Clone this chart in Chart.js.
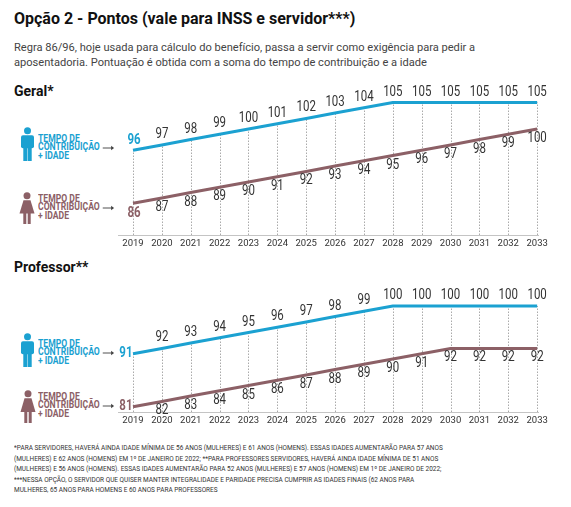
<!DOCTYPE html>
<html><head><meta charset="utf-8">
<script src="https://cdn.jsdelivr.net/npm/chart.js@4.4.1/dist/chart.umd.min.js"></script>
<style>
html,body{margin:0;padding:0;background:#fff;}
body{width:571px;height:507px;position:relative;overflow:hidden;font-family:Roboto,sans-serif;color:#222;}
.abs{position:absolute;white-space:nowrap;}
#title{left:14px;top:9px;font-weight:bold;font-size:16px;color:#111;}
#sub{left:14px;top:40px;font-size:11.1px;line-height:15px;color:#444;}
.sec{font-weight:bold;font-size:14px;color:#111;}
.lg{font-weight:bold;font-size:10px;line-height:8.8px;transform:scaleX(0.86);transform-origin:0 0;}
.lg svg{vertical-align:middle;margin-left:1px;}
#foot{left:14px;top:443px;font-size:7.5px;line-height:10.5px;color:#333;transform:scaleX(0.862);transform-origin:0 0;}
canvas{position:absolute;left:0;}
</style></head>
<body>
<div id="title" class="abs">Opção 2 - Pontos (vale para INSS e servidor***)</div>
<div id="sub" class="abs">Regra 86/96, hoje usada para cálculo do benefício, passa a servir como exigência para pedir a<br>aposentadoria. Pontuação é obtida com a soma do tempo de contribuição e a idade</div>
<div class="abs sec" style="left:14px;top:83px">Geral*</div>
<div class="abs sec" style="left:14px;top:259px">Professor**</div>

<svg class="abs" style="left:21px;top:127px" width="13" height="34" viewBox="0 0 13 34" fill="#1ba1d1"><circle cx="6.5" cy="3.8" r="3.5"/><rect x="0" y="8.3" width="13" height="13" rx="2"/><rect x="2.3" y="19" width="4" height="15"/><rect x="6.7" y="19" width="4" height="15"/></svg>
<div class="abs lg" style="left:38px;top:134.5px;color:#1ba1d1">TEMPO DE<br>CONTRIBUIÇÃO <svg width="14" height="6" viewBox="0 0 14 6"><path d="M0 3H12" stroke="#444" stroke-width="1"/><path d="M10 0.8L13.5 3L10 5.2Z" fill="#444"/></svg><br>+ IDADE</div>
<svg class="abs" style="left:19px;top:192px" width="16" height="32" viewBox="0 0 16 32" fill="#8c6066"><circle cx="8" cy="3.8" r="3.5"/><path d="M4.5 8.3 H11.5 L15.5 21.5 H0.5 Z"/><rect x="4.3" y="20.5" width="3" height="11.5"/><rect x="8.7" y="20.5" width="3" height="11.5"/></svg>
<div class="abs lg" style="left:38px;top:194.5px;color:#8c6066">TEMPO DE<br>CONTRIBUIÇÃO <svg width="14" height="6" viewBox="0 0 14 6"><path d="M0 3H12" stroke="#444" stroke-width="1"/><path d="M10 0.8L13.5 3L10 5.2Z" fill="#444"/></svg><br>+ IDADE</div>

<svg class="abs" style="left:21px;top:333px" width="13" height="34" viewBox="0 0 13 34" fill="#1ba1d1"><circle cx="6.5" cy="3.8" r="3.5"/><rect x="0" y="8.3" width="13" height="13" rx="2"/><rect x="2.3" y="19" width="4" height="15"/><rect x="6.7" y="19" width="4" height="15"/></svg>
<div class="abs lg" style="left:38px;top:339.5px;color:#1ba1d1">TEMPO DE<br>CONTRIBUIÇÃO <svg width="14" height="6" viewBox="0 0 14 6"><path d="M0 3H12" stroke="#444" stroke-width="1"/><path d="M10 0.8L13.5 3L10 5.2Z" fill="#444"/></svg><br>+ IDADE</div>
<svg class="abs" style="left:20px;top:390px" width="16" height="33" viewBox="0 0 16 33" fill="#8c6066"><circle cx="8" cy="3.8" r="3.5"/><path d="M4.5 8.3 H11.5 L15.5 22 H0.5 Z"/><rect x="4.3" y="21" width="3" height="12"/><rect x="8.7" y="21" width="3" height="12"/></svg>
<div class="abs lg" style="left:38px;top:392.5px;color:#8c6066">TEMPO DE<br>CONTRIBUIÇÃO <svg width="14" height="6" viewBox="0 0 14 6"><path d="M0 3H12" stroke="#444" stroke-width="1"/><path d="M10 0.8L13.5 3L10 5.2Z" fill="#444"/></svg><br>+ IDADE</div>

<canvas id="c1" width="571" height="180" style="top:80px"></canvas>
<canvas id="c2" width="571" height="160" style="top:280px"></canvas>

<div id="foot" class="abs">*PARA SERVIDORES, HAVERÁ AINDA IDADE MÍNIMA DE 56 ANOS (MULHERES) E 61 ANOS (HOMENS). ESSAS IDADES AUMENTARÃO PARA 57 ANOS<br>(MULHERES) E 62 ANOS (HOMENS) EM 1º DE JANEIRO DE 2022; **PARA PROFESSORES SERVIDORES, HAVERÁ AINDA IDADE MÍNIMA DE 51 ANOS<br>(MULHERES) E 56 ANOS (HOMENS). ESSAS IDADES AUMENTARÃO PARA 52 ANOS (MULHERES) E 57 ANOS (HOMENS) EM 1º DE JANEIRO DE 2022;<br>***NESSA OPÇÃO, O SERVIDOR QUE QUISER MANTER INTEGRALIDADE E PARIDADE PRECISA CUMPRIR AS IDADES FINAIS (62 ANOS PARA<br>MULHERES, 65 ANOS PARA HOMENS E 60 ANOS PARA PROFESSORES</div>

<script>
const years = [2019,2020,2021,2022,2023,2024,2025,2026,2027,2028,2029,2030,2031,2032,2033];
const geralHomens = [96,97,98,99,100,101,102,103,104,105,105,105,105,105,105];
const geralMulheres = [86,87,88,89,90,91,92,93,94,95,96,97,98,99,100];
const profHomens = [91,92,93,94,95,96,97,98,99,100,100,100,100,100,100];
const profMulheres = [81,82,83,84,85,86,87,88,89,90,91,92,92,92,92];

const BLUE = '#1ba1d1';
const BROWN = '#8c6066';
const FONT = 'Roboto, sans-serif';

const gridPlugin = {
  id: 'colGrid',
  beforeDatasetsDraw(chart) {
    const ctx = chart.ctx, area = chart.chartArea;
    const metas = chart.data.datasets.map((d, i) => chart.getDatasetMeta(i));
    ctx.save();
    ctx.strokeStyle = '#aaaaaa';
    ctx.lineWidth = 1;
    ctx.setLineDash([1.5, 1.5]);
    metas[0].data.forEach((pt, i) => {
      const top = Math.min(...metas.map(m => m.data[i].y));
      const x = Math.round(pt.x) + 0.5;
      ctx.beginPath();
      ctx.moveTo(x, area.bottom);
      ctx.lineTo(x, top);
      ctx.stroke();
    });
    ctx.restore();
  }
};

function drawText(ctx, txt, x, y, align) {
  ctx.save();
  ctx.translate(x, y);
  ctx.scale(0.82, 1);
  ctx.textAlign = align;
  ctx.textBaseline = 'middle';
  ctx.fillText(txt, 0, 0);
  ctx.restore();
}

const labelPlugin = {
  id: 'valLabels',
  afterDatasetsDraw(chart, args, opts) {
    const ctx = chart.ctx;
    chart.data.datasets.forEach((ds, di) => {
      const meta = chart.getDatasetMeta(di);
      meta.data.forEach((pt, i) => {
        const v = String(ds.data[i].y);
        ctx.save();
        if (i === 0) {
          ctx.font = 'bold 14px ' + FONT;
          ctx.fillStyle = ds.borderColor;
          if (opts.firstLeft) {
            drawText(ctx, v, pt.x - 0.5, pt.y, 'right');
          } else {
            drawText(ctx, v, pt.x + 1, pt.y + (ds.labelPos === 'above' ? -9.5 : 10.5), 'center');
          }
        } else {
          ctx.font = '14px ' + FONT;
          ctx.fillStyle = '#333';
          drawText(ctx, v, pt.x, pt.y + (ds.labelPos === 'above' ? -10.5 : 9.5), 'center');
        }
        ctx.restore();
      });
    });
  }
};

function pts(vals) { return years.map((y, i) => ({ x: y, y: vals[i] })); }

function makeChart(id, homens, mulheres, yMax, pad, firstLeft) {
  return new Chart(document.getElementById(id), {
    type: 'line',
    data: {
      datasets: [
        { data: pts(homens), borderColor: BLUE, borderWidth: 3, pointRadius: 0, tension: 0, clip: false, labelPos: 'above' },
        { data: pts(mulheres), borderColor: BROWN, borderWidth: 3, pointRadius: 0, tension: 0, clip: false, labelPos: 'below' }
      ]
    },
    options: {
      responsive: false,
      animation: false,
      events: [],
      layout: { padding: pad },
      plugins: { legend: { display: false }, tooltip: { enabled: false }, valLabels: { firstLeft } },
      scales: {
        x: {
          type: 'linear', min: 2018.48, max: 2033.03,
          grid: { display: false, drawTicks: false },
          border: { display: true, color: '#c4c4c4', width: 1 },
          afterBuildTicks: (s) => { s.ticks = years.map(y => ({ value: y })); },
          afterFit: (s) => { s.height = 20; },
          ticks: { padding: 3, color: '#333', font: { family: FONT, size: 9.5 }, maxRotation: 0, autoSkip: false,
                   callback: (v) => String(v) }
        },
        y: { display: false, min: 80, max: yMax }
      }
    },
    plugins: [gridPlugin, labelPlugin]
  });
}

makeChart('c1', geralHomens, geralMulheres, 105, { left: 118, right: 33, top: 22.5, bottom: 5 }, false);
makeChart('c2', profHomens, profMulheres, 100, { left: 118, right: 33, top: 26, bottom: 8 }, true);
</script>
</body></html>
